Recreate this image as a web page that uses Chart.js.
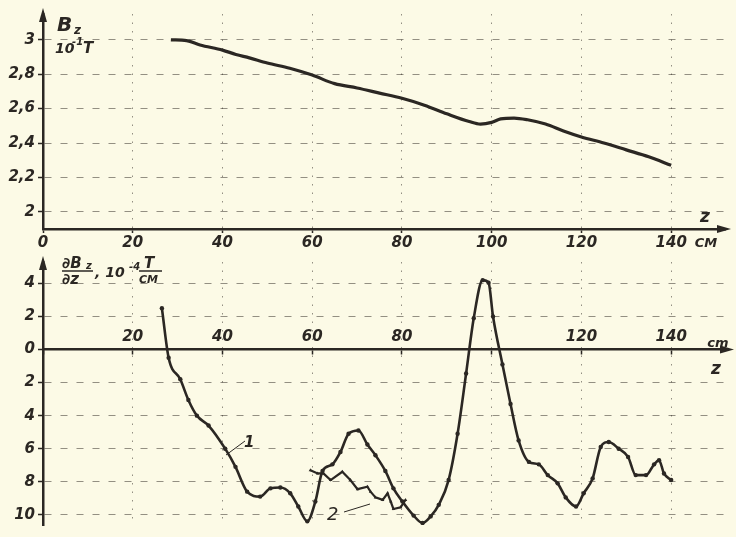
<!DOCTYPE html>
<html>
<head>
<meta charset="utf-8">
<script src="https://cdn.jsdelivr.net/npm/chart.js@4.4.0/dist/chart.umd.min.js"></script>
<style>
  html, body { margin: 0; padding: 0; background: #fcfae6; }
  #wrap { position: relative; width: 736px; height: 537px; overflow: hidden; }
  canvas { position: absolute; left: 0; }
  #top { top: 0; }
  #bot { top: 250px; }
</style>
</head>
<body>
<div id="wrap">
  <canvas id="top" width="736" height="255"></canvas>
  <canvas id="bot" width="736" height="287"></canvas>
</div>
<script>
// z axis (cm)
const zTicks = [0, 20, 40, 60, 80, 100, 120, 140];
const zLabelsTop = ['0', '20', '40', '60', '80', '100', '120', '140'];
const zLabelsBot = ['', '20', '40', '60', '80', '', '120', '140'];

// upper plot: Bz, 10^-1 T
const bTicks = [2, 2.2, 2.4, 2.6, 2.8, 3];
const bLabels = ['2', '2,2', '2,4', '2,6', '2,8', '3'];
const bzZ   = [28.5, 32, 35, 40, 43, 46, 50, 55, 60, 65, 70, 75, 80, 85, 90, 95, 97.5, 100, 102, 105, 108, 112, 116, 120, 125, 130, 135, 140];
const bzVal = [3.0, 2.995, 2.97, 2.94, 2.915, 2.895, 2.865, 2.835, 2.795, 2.745, 2.72, 2.69, 2.66, 2.62, 2.57, 2.525, 2.51, 2.52, 2.54, 2.545, 2.535, 2.51, 2.47, 2.435, 2.4, 2.36, 2.32, 2.27];

// lower plot: dBz/dz, 10^-4 T/cm (values below the axis are negative)
const gTicks = [4, 2, 0, -2, -4, -6, -8, -10];
const gLabels = ['4', '2', '0', '2', '4', '6', '8', '10'];
const g1Z   = [26.5, 28, 30.6, 32.4, 34.3, 36.9, 40.6, 42.9, 45.5, 48.4, 50.7, 52.9, 55.1, 56.9, 58.9, 60.7, 62.3, 64.5, 66.3, 68.1, 70.3, 72.3, 74.1, 76.3, 78.1, 80.1, 82.6, 84.6, 86.4, 88.2, 90.4, 92.4, 94.3, 96.0, 98.0, 99.3, 100.3, 102.4, 104.2, 106.0, 108.3, 110.5, 112.5, 114.7, 116.5, 118.8, 120.5, 122.5, 124.3, 126.1, 128.3, 130.4, 132.1, 134.4, 136.2, 137.3, 138.4, 140];
const g1Val = [2.5, -0.5, -1.8, -3.05, -4.0, -4.6, -6.0, -7.1, -8.6, -8.9, -8.4, -8.35, -8.7, -9.5, -10.4, -9.2, -7.35, -6.95, -6.2, -5.1, -4.9, -5.75, -6.4, -7.35, -8.4, -9.2, -10.05, -10.5, -10.1, -9.4, -7.9, -5.1, -1.45, 1.9, 4.2, 4.05, 2.0, -0.9, -3.3, -5.5, -6.8, -6.95, -7.6, -8.1, -8.95, -9.5, -8.7, -7.8, -5.9, -5.6, -6.0, -6.5, -7.6, -7.6, -6.95, -6.7, -7.5, -7.9];
const g2Z   = [59.6, 61.2, 62.5, 64.1, 66.7, 68.5, 70.1, 72.3, 73.0, 74.1, 75.7, 76.8, 77.5, 78.1, 79.7, 80.8];
const g2Val = [-7.3, -7.5, -7.5, -7.9, -7.4, -7.9, -8.45, -8.3, -8.6, -8.95, -9.1, -8.7, -9.2, -9.65, -9.55, -9.1];

const ink = '#2b2723';
const gridCol = 'rgba(60,55,48,0.55)';
const tickFont = { family: '"DejaVu Sans"', size: 15, weight: 'bold', style: 'italic' };

function pts(xs, ys) { return xs.map((x, i) => ({ x: x, y: ys[i] })); }

function arrow(ctx, x, y, dir) {
  ctx.save();
  ctx.fillStyle = ink;
  ctx.beginPath();
  if (dir === 'up') {
    ctx.moveTo(x, y - 6); ctx.lineTo(x - 4, y + 8); ctx.lineTo(x + 4, y + 8);
  } else {
    ctx.moveTo(x + 6, y); ctx.lineTo(x - 8, y - 4); ctx.lineTo(x - 8, y + 4);
  }
  ctx.closePath();
  ctx.fill();
  ctx.restore();
}

function txt(ctx, s, x, y, size, align) {
  ctx.font = 'bold italic ' + size + 'px "DejaVu Sans"';
  ctx.textAlign = align || 'left';
  ctx.fillText(s, x, y);
}

const topDeco = {
  id: 'topDeco',
  afterDraw(chart) {
    const ctx = chart.ctx, a = chart.chartArea;
    const yAx = chart.scales.x.getPixelForValue(0);
    arrow(ctx, yAx, a.top, 'up');
    arrow(ctx, a.right, a.bottom, 'right');
    ctx.save();
    ctx.fillStyle = ink;
    ctx.textBaseline = 'alphabetic';
    txt(ctx, 'B', 57, 31, 20);
    txt(ctx, 'z', 74, 34, 12);
    txt(ctx, '10', 55, 53, 14);
    txt(ctx, '-1', 72, 45, 10);
    txt(ctx, 'T', 83, 53, 15);
    txt(ctx, 'z', 705, 222, 17, 'center');
    txt(ctx, 'CM', 706, 247, 13, 'center');
    ctx.restore();
  }
};

const botDeco = {
  id: 'botDeco',
  afterDraw(chart) {
    const ctx = chart.ctx, a = chart.chartArea;
    const yAx = chart.scales.x.getPixelForValue(0);
    const zero = chart.scales.y.getPixelForValue(0);
    arrow(ctx, yAx, a.top, 'up');
    arrow(ctx, a.right + 3, zero, 'right');
    ctx.save();
    ctx.fillStyle = ink;
    ctx.strokeStyle = ink;
    ctx.textBaseline = 'alphabetic';
    // fraction dBz/dz
    txt(ctx, '\u2202B', 62, 18, 15);
    txt(ctx, 'z', 86, 19, 10);
    ctx.lineWidth = 1.5;
    ctx.beginPath(); ctx.moveTo(62, 21); ctx.lineTo(93, 21); ctx.stroke();
    txt(ctx, '\u2202z', 62, 34, 15);
    txt(ctx, ', 10', 95, 27, 14);
    txt(ctx, '-4', 129, 20, 10);
    txt(ctx, 'T', 144, 18, 15);
    ctx.beginPath(); ctx.moveTo(139, 21); ctx.lineTo(162, 21); ctx.stroke();
    txt(ctx, 'CM', 139, 33, 11);
    // axis unit and name
    txt(ctx, 'cm', 718, 97, 13, 'center');
    txt(ctx, 'z', 716, 124, 17, 'center');
    // curve labels with leader lines
    ctx.lineWidth = 1;
    txt(ctx, '1', 244, 197, 15);
    ctx.beginPath(); ctx.moveTo(245, 191); ctx.lineTo(226, 205); ctx.stroke();
    ctx.font = 'italic 18px "DejaVu Sans"';
    ctx.fillText('2', 327, 270);
    ctx.beginPath(); ctx.moveTo(344, 262); ctx.lineTo(370, 254); ctx.stroke();
    ctx.restore();
  }
};

const commonPlugins = { legend: { display: false }, tooltip: { enabled: false } };

new Chart(document.getElementById('top'), {
  type: 'line',
  data: {
    datasets: [{
      data: pts(bzZ, bzVal),
      borderColor: ink,
      borderWidth: 3.2,
      pointRadius: 0,
      cubicInterpolationMode: 'monotone'
    }]
  },
  options: {
    responsive: false,
    animation: false,
    devicePixelRatio: 1,
    events: [],
    layout: { padding: { top: 14, right: 11, left: 0, bottom: 0 } },
    plugins: commonPlugins,
    scales: {
      x: {
        type: 'linear', min: 0, max: 152,
        afterBuildTicks: s => { s.ticks = zTicks.map(v => ({ value: v })); },
        afterFit: s => { s.height = 26; },
        ticks: { autoSkip: false, maxRotation: 0, color: ink, font: tickFont, padding: 1,
                 callback: (v, i) => zLabelsTop[i] },
        grid: { color: gridCol, lineWidth: 1, tickLength: 4, tickColor: ink, tickWidth: 1.5 },
        border: { color: ink, width: 2.5, dash: [1.5, 7] }
      },
      y: {
        min: 1.9, max: 3.15,
        afterBuildTicks: s => { s.ticks = bTicks.map(v => ({ value: v })); },
        afterFit: s => { s.width = 43; },
        ticks: { color: ink, font: tickFont, padding: 3, callback: (v, i) => bLabels[i] },
        grid: { color: gridCol, lineWidth: 1, tickLength: 5, tickColor: ink, tickWidth: 1.5 },
        border: { color: ink, width: 2.5, dash: [7, 9] }
      }
    }
  },
  plugins: [topDeco]
});

new Chart(document.getElementById('bot'), {
  type: 'line',
  data: {
    datasets: [{
      label: '1',
      data: pts(g1Z, g1Val),
      borderColor: ink,
      backgroundColor: ink,
      borderWidth: 2.6,
      pointRadius: 2.2,
      pointBorderWidth: 0,
      cubicInterpolationMode: 'monotone'
    }, {
      label: '2',
      data: pts(g2Z, g2Val),
      borderColor: ink,
      backgroundColor: ink,
      borderWidth: 2.2,
      pointRadius: 2,
      pointStyle: 'triangle',
      pointBorderWidth: 0,
      tension: 0
    }]
  },
  options: {
    responsive: false,
    animation: false,
    devicePixelRatio: 1,
    events: [],
    layout: { padding: { top: 10, right: 11, left: 0, bottom: 0 } },
    plugins: commonPlugins,
    scales: {
      x: {
        type: 'linear', min: 0, max: 152,
        position: { y: 0 },
        afterBuildTicks: s => { s.ticks = zTicks.map(v => ({ value: v })); },
        ticks: { autoSkip: false, maxRotation: 0, color: ink, font: tickFont, padding: -25,
                 callback: (v, i) => zLabelsBot[i] },
        grid: { color: gridCol, lineWidth: 1, tickLength: 4, tickColor: ink, tickWidth: 1.5 },
        border: { color: ink, width: 2.5, dash: [1.5, 7] }
      },
      y: {
        min: -10.62, max: 5.3,
        afterBuildTicks: s => { s.ticks = gTicks.map(v => ({ value: v })); },
        afterFit: s => { s.width = 43; },
        ticks: { color: ink, font: tickFont, padding: 3, callback: (v, i) => gLabels[i] },
        grid: { color: gridCol, lineWidth: 1, tickLength: 5, tickColor: ink, tickWidth: 1.5 },
        border: { color: ink, width: 2.5, dash: [7, 9] }
      }
    }
  },
  plugins: [botDeco]
});
</script>
</body>
</html>
